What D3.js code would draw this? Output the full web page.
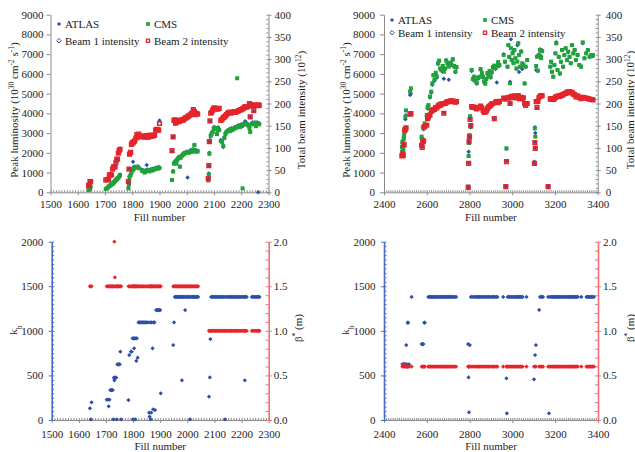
<!DOCTYPE html>
<html>
<head>
<meta charset="utf-8">
<script src="https://cdn.jsdelivr.net/npm/d3@7"></script>
<style>
  body { margin: 0; background: #fff; }
  svg { display: block; }
</style>
</head>
<body>
<svg id="chart" width="635" height="452"></svg>
<script>
// ---- tick labels ----
const lumTicks = [0, 1000, 2000, 3000, 4000, 5000, 6000, 7000, 8000, 9000];
const intTicks = [0, 50, 100, 150, 200, 250, 300, 350, 400];
const kbTicks = [0, 500, 1000, 1500, 2000];
const betaTicks = [0, 0.5, 1.0, 1.5, 2.0];
const fillTicks2011 = [1500, 1600, 1700, 1800, 1900, 2000, 2100, 2200, 2300];
const fillTicks2012 = [2400, 2600, 2800, 3000, 3200, 3400];

// ---- 2011: peak luminosity (1e30 cm-2 s-1) and beam intensity (1e12) per fill ----
const fills2011 = [
  1640, 1642, 1645, 1647,
  1703, 1709, 1713, 1716, 1720, 1724, 1728, 1731, 1734, 1737, 1740, 1743, 1746, 1749, 1752, 1755,
  1786, 1788, 1790, 1794, 1797, 1800, 1803, 1806, 1809, 1813, 1817, 1820, 1824,
  1835, 1839, 1843, 1846, 1850, 1853, 1856, 1860, 1863, 1866, 1870, 1874, 1878, 1882, 1886, 1890, 1894, 1897, 1900,
  1946, 1950, 1953, 1956, 1959, 1962, 1965, 1968, 1971, 1975, 1978, 1982, 1986, 1990, 1994, 1998, 2003, 2007, 2012, 2016, 2020, 2024, 2028, 2032, 2036, 2040,
  2079, 2081, 2083, 2085, 2088, 2091, 2095, 2099, 2103, 2107,
  2111, 2115, 2119, 2125, 2130, 2134, 2138, 2142, 2146, 2150,
  2155, 2159, 2163, 2167, 2171, 2175, 2180, 2185, 2190, 2195,
  2200, 2205, 2210, 2214, 2218, 2225, 2230, 2233, 2238, 2242,
  2246, 2250, 2254, 2258, 2262, 2266
];
const atlas2011 = [
  150, 220, 170, 300,
  180, 240, 300, 350, 380, 430, 450, 520, 560, 600, 650, 700, 720, 780, 820, 900,
  250, 450, 800, 900, 1050, 1150, 1550, 1300, 1300, 1300, 1300, 1320, 1250,
  1150, 1100, 1100, 1050, 1100, 1380, 1150, 1120, 1080, 1150, 1150, 1200, 1150, 1200, 1250, 1250, 1220, 1280, 1250,
  640, 1080, 1500, 1550, 1600, 1500, 1700, 1750, 1800, 1300, 1800, 1900, 1950, 2000, 2000, 2050, 750, 2050, 2100, 2150, 2100, 2200, 2400, 2150, 2100, 2100,
  650, 950, 2000, 2650, 2900, 3000, 3100, 3300, 3300, 3250,
  3000, 3300, 3200, 2650, 2600, 2300, 2800, 3000, 3100, 3150,
  3200, 3200, 3250, 3200, 3250, 3300, 3300, 3350, 3400, 3350,
  3450, 3350, 3500, 3600, 3550, 3450, 3300, 3100, 3500, 3550,
  3500, 3550, 3400, 3550, 0, 3500
];
const cms2011 = [
  120, 200, 150, 280,
  170, 220, 280, 320, 350, 400, 420, 480, 520, 570, 620, 660, 700, 740, 800, 870,
  200, 420, 770, 880, 1000, 1100, 1150, 1200, 1250, 1280, 1270, 1280, 1220,
  1100, 1080, 1050, 1000, 1080, 1100, 1120, 1100, 1060, 1120, 1100, 1150, 1120, 1180, 1200, 1220, 1200, 1250, 1230,
  620, 1050, 1450, 1500, 1550, 1450, 1650, 1700, 1750, 1300, 1750, 1850, 1900, 1950, 1980, 2000, 2050, 2000, 2050, 2100, 2050, 2150, 2400, 2100, 2050, 2080,
  600, 900, 1950, 2600, 2850, 2950, 3050, 3200, 3250, 3200,
  2950, 3250, 3150, 2600, 2550, 2350, 2750, 2950, 3050, 3100,
  3150, 3100, 3200, 3150, 3200, 3250, 3250, 5780, 3350, 3300,
  3400, 200, 3450, 3500, 3450, 3400, 3250, 3050, 3450, 3500,
  3450, 3500, 3350, 3500, 3450, 3450
];
const beam1_2011 = [
  14, 16, 24, 25,
  27, 28, 29, 38, 41, 39, 52, 57, 58, 57, 68, 74, 75, 88, 93, 99,
  24, 53, 85, 90, 108, 112, 110, 115, 116, 122, 129, 124, 130,
  125, 126, 127, 125, 126, 128, 125, 124, 127, 128, 126, 129, 127, 129, 140, 143, 141, 139, 162,
  93, 125, 160, 164, 155, 158, 160, 161, 159, 160, 162, 163, 162, 165, 166, 168, 170, 172, 174, 176, 178, 186, 182, 175, 178, 176,
  31, 59, 114, 161, 178, 180, 185, 189, 190, 188,
  189, 188, 190, 162, 166, 167, 170, 172, 174, 178,
  181, 180, 178, 180, 181, 182, 180, 183, 184, 185,
  186, 188, 190, 193, 192, 194, 200, 170, 197, 198,
  183, 196, 196, 195, 197, 196
];
const beam2_2011 = [
  15, 16, 24, 24,
  28, 28, 29, 39, 40, 39, 52, 57, 58, 57, 67, 74, 75, 88, 94, 97,
  24, 52, 86, 90, 108, 112, 111, 114, 116, 122, 130, 124, 131,
  126, 125, 127, 124, 126, 127, 125, 124, 128, 128, 126, 128, 127, 129, 140, 142, 141, 140, 155,
  94, 125, 162, 163, 156, 158, 160, 162, 159, 161, 162, 163, 162, 165, 167, 168, 170, 172, 174, 176, 179, 186, 181, 175, 178, 176,
  31, 60, 114, 161, 178, 180, 185, 189, 190, 188,
  188, 188, 189, 162, 165, 168, 170, 172, 175, 178,
  180, 180, 178, 180, 180, 182, 180, 182, 184, 185,
  186, 188, 190, 193, 192, 193, 200, 170, 196, 197,
  184, 196, 196, 195, 197, 196
];

// ---- 2012 ----
const fills2012 = [
  2484, 2486, 2488, 2490, 2492, 2494, 2497, 2500, 2503, 2522, 2526,
  2576, 2579, 2582, 2585, 2590, 2600, 2604, 2608, 2615, 2621,
  2626, 2631, 2636, 2642, 2647, 2653, 2658, 2663, 2669, 2675,
  2680, 2686, 2691, 2697, 2703, 2710, 2716, 2722, 2728, 2734, 2739,
  2794, 2796, 2798, 2800, 2803, 2806,
  2810, 2816, 2822, 2828, 2834, 2840, 2846, 2852, 2858, 2864,
  2869, 2874, 2879, 2884, 2889, 2894, 2899, 2904, 2910, 2916,
  2922, 2928, 2934, 2940,
  2960, 2966, 2970, 2973, 2978, 2982, 2986, 2990, 2994, 2998,
  3002, 3006, 3010, 3015, 3020, 3024, 3028, 3032,
  3037, 3042, 3047, 3052, 3058, 3063, 3070,
  3104, 3106, 3108, 3112, 3116, 3120, 3125, 3130, 3135, 3140, 3168,
  3178, 3182, 3186, 3192, 3197, 3202, 3206, 3212, 3218, 3223,
  3228, 3233, 3238, 3244, 3250, 3256, 3262, 3268, 3274, 3280,
  3286, 3292, 3298, 3306, 3314, 3322, 3330, 3338, 3346, 3354,
  3362, 3370, 3378
];
const atlas2012 = [
  2100, 2500, 2300, 2000, 2650, 2800, 3000, 3700, 3900, 4930, 5000,
  2750, 2600, 3300, 3200, 3450, 3900, 4250, 4400, 4800, 5050,
  5450, 5900, 5650, 6000, 5800, 6500, 6650, 6250, 6150, 6350,
  5750, 6250, 6700, 6500, 5700, 6550, 6450, 6700, 6350, 6100, 6300,
  250, 2060, 2600, 2850, 3800, 3300,
  6150, 5700, 5850, 5600, 5500, 5750, 5800, 6200, 6000, 5800,
  5600, 5550, 5700, 6000, 5900, 6100, 5800, 6050, 6300, 6400,
  6250, 5560, 6550, 6400,
  7000, 6600, 300, 2200, 6350, 7450, 6850, 5600, 7750, 6700,
  7100, 6550, 7200, 6800, 6250, 7450, 7550, 6100,
  6350, 7150, 6250, 6500, 5500, 6350, 6700,
  1550, 3300, 3000, 6200, 6900, 6150, 7000, 7250, 6900, 7200, 250,
  6350, 6600, 6100, 5850, 6450, 7050, 7600, 6200, 6850, 6000,
  6600, 7200, 6350, 6950, 7300, 6700, 7100, 6850, 6550, 7450,
  7050, 7200, 6700, 6950, 6450, 6350, 7550, 6800, 7050, 7200,
  6850, 6950, 6900
];
const cms2012 = [
  2300, 2560, 2400, 2150, 2750, 2900, 3100, 3830, 4150, 5100, 5270,
  2820, 2700, 3320, 3240, 3490, 3920, 4300, 4420, 4850, 5100,
  5520, 5940, 5690, 6060, 5860, 6540, 6670, 6280, 6200, 6400,
  6110, 6280, 6670, 6540, 6370, 6570, 6470, 6750, 6400, 6110, 6350,
  290, 1840, 2500, 2900, 3860, 3320,
  6200, 5750, 5860, 5650, 5550, 5800, 5850, 6250, 6050, 5850,
  5600, 5500, 5750, 6050, 5950, 6150, 5850, 6100, 6350, 6420,
  6300, 6400, 6600, 6450,
  6960, 6620, 290, 2230, 6370, 7460, 6870, 5520, 7300, 6700,
  7040, 6540, 7210, 6790, 6280, 6620, 7550, 6960,
  6370, 7130, 6540, 6450, 5520, 6370, 6700,
  1480, 3240, 2820, 6400, 6870, 6170, 6950, 7210, 6800, 7150, 290,
  6370, 6620, 6110, 5860, 6450, 7040, 7550, 6200, 6870, 6030,
  6620, 7210, 6370, 6960, 7300, 6700, 7130, 6870, 6540, 7460,
  7040, 7210, 6700, 6960, 6450, 6370, 7600, 6790, 7040, 7210,
  6870, 6960, 6950
];
const beam1_2012 = [
  84, 86, 88, 84, 108, 110, 140, 142, 144, 175, 178,
  107, 102, 115, 117, 148, 152, 164, 170, 175, 181,
  184, 187, 186, 192, 191, 195, 197, 198, 199, 200,
  179, 201, 203, 205, 205, 206, 206, 206, 205, 204, 205,
  12, 66, 112, 125, 165, 150,
  192, 192, 193, 190, 188, 192, 190, 195, 190, 185,
  180, 182, 184, 188, 193, 195, 197, 200, 201, 166,
  204, 205, 203, 206,
  212, 210, 14, 70, 214, 212, 215, 200, 215, 216,
  214, 212, 217, 215, 213, 216, 218, 211,
  213, 214, 212, 214, 200, 196, 200,
  66, 113, 100, 205, 190, 205, 212, 216, 217, 217, 13,
  211, 212, 210, 208, 212, 214, 216, 217, 218, 216,
  219, 220, 221, 222, 224, 226, 227, 228, 225, 226,
  222, 220, 216, 217, 214, 212, 215, 214, 213, 212,
  211, 210, 209
];
const beam2_2012 = [
  82, 84, 86, 83, 106, 108, 140, 142, 145, 176, 177,
  106, 101, 114, 116, 148, 151, 166, 170, 174, 182,
  185, 186, 187, 191, 190, 194, 197, 196, 199, 199,
  178, 200, 202, 204, 204, 206, 205, 206, 204, 203, 204,
  11, 65, 114, 125, 164, 150,
  193, 191, 192, 190, 188, 191, 191, 194, 190, 184,
  180, 181, 184, 188, 192, 194, 196, 199, 200, 166,
  203, 204, 202, 205,
  212, 210, 13, 69, 213, 212, 214, 200, 215, 216,
  214, 213, 217, 214, 213, 215, 218, 211,
  212, 214, 211, 213, 200, 196, 200,
  65, 112, 99, 204, 191, 205, 213, 216, 218, 217, 13,
  210, 211, 210, 209, 211, 214, 215, 216, 217, 216,
  218, 219, 220, 222, 223, 225, 226, 227, 224, 225,
  221, 220, 215, 217, 214, 211, 214, 213, 212, 211,
  210, 209, 208
];

// ---- bunches k_b and beta* (m) per fill ----
const fillsKb2011 = [
  1641, 1644, 1647,
  1703, 1707, 1710, 1713, 1716, 1719, 1722, 1725, 1727, 1729,
  1731, 1733, 1735, 1738, 1740, 1742, 1745, 1748, 1751, 1753, 1756,
  1783, 1786, 1792, 1795, 1798, 1800, 1802, 1804, 1806, 1808, 1810, 1812, 1814, 1817,
  1820, 1823, 1827, 1831, 1835, 1839, 1843, 1847, 1851, 1855, 1859, 1861, 1863, 1865, 1867, 1869,
  1872, 1874, 1876, 1879, 1881, 1885, 1888, 1891, 1894, 1897, 1900, 1902,
  1948, 1951, 1954, 1957, 1960, 1963, 1966, 1969, 1972, 1975, 1978, 1980,
  1983, 1986, 1989, 1992, 1995, 1998, 2001, 2004, 2007, 2010,
  2013, 2016, 2019, 2022, 2025, 2028, 2031, 2034, 2037, 2040,
  2080, 2083, 2085, 2088, 2092, 2095, 2099, 2103, 2106, 2110, 2114, 2117,
  2121, 2125, 2128, 2132, 2136, 2139, 2142, 2146, 2150, 2153, 2157, 2161,
  2164, 2168, 2172, 2175, 2179, 2183, 2186, 2190, 2194, 2198, 2202, 2206,
  2210, 2212, 2215, 2219, 2238, 2242, 2246, 2250, 2254, 2258, 2262, 2266
];
const kb2011 = [
  131, 8, 198,
  228, 228, 153, 228, 336, 336, 336, 336, 8, 475,
  445, 475, 475, 475, 8, 624, 624, 624, 624, 766, 8,
  224, 729, 766, 766, 916, 8, 916, 804, 916, 8, 916, 662, 916, 699,
  1095, 1095, 1095, 1095, 1095, 1095, 1095, 1095, 1095, 1095, 82, 37, 1095, 8, 82, 1095,
  804, 120, 1095, 1095, 112, 1233, 1233, 1233, 1233, 1233, 1233, 299,
  841, 1095, 1380, 1380, 1380, 1380, 1380, 1380, 1380, 1380, 1380, 445,
  1380, 1380, 1380, 1233, 1380, 1380, 1380, 1380, 1380, 8,
  1380, 1380, 1380, 1380, 1380, 1380, 1380, 1380, 1380, 1380,
  262, 478, 908, 1380, 1380, 1380, 1380, 1380, 1380, 1380, 1380, 1380,
  1380, 1380, 1380, 1380, 1380, 8, 1380, 1380, 1380, 1380, 1380, 1380,
  1380, 1380, 1380, 1380, 1380, 1380, 1380, 1380, 1380, 1380, 1380, 1380,
  1380, 445, 1380, 1380, 1380, 1380, 1380, 1380, 1380, 1380, 1380, 1380
];
const beta2011 = [
  1.5, 1.5, 1.5,
  1.5, 1.5, 1.5, 1.5, 1.5, 1.5, 1.5, 1.5, 1.5, 1.5,
  2.0, 1.6, 1.5, 1.5, 1.5, 1.5, 1.5, 1.5, 1.5, 1.5, 1.5,
  1.5, 1.5, 1.5, 1.5, 1.5, 1.5, 1.5, 1.5, 1.5, 1.5, 1.5, 1.5, 1.5, 1.5,
  1.5, 1.5, 1.5, 1.5, 1.5, 1.5, 1.5, 1.5, 1.5, 1.5, 1.5, 1.5, 1.5, 1.5, 1.5, 1.5,
  1.5, 1.5, 1.5, 1.5, 1.5, 1.5, 1.5, 1.5, 1.5, 1.5, 1.5, 1.5,
  1.5, 1.5, 1.5, 1.5, 1.5, 1.5, 1.5, 1.5, 1.5, 1.5, 1.5, 1.5,
  1.5, 1.5, 1.5, 1.5, 1.5, 1.5, 1.5, 1.5, 1.5, 1.5,
  1.5, 1.5, 1.5, 1.5, 1.5, 1.5, 1.5, 1.5, 1.5, 1.5,
  1.0, 1.0, 1.0, 1.0, 1.0, 1.0, 1.0, 1.0, 1.0, 1.0, 1.0, 1.0,
  1.0, 1.0, 1.0, 1.0, 1.0, 1.0, 1.0, 1.0, 1.0, 1.0, 1.0, 1.0,
  1.0, 1.0, 1.0, 1.0, 1.0, 1.0, 1.0, 1.0, 1.0, 1.0, 1.0, 1.0,
  1.0, 1.0, 1.0, 1.0, 1.0, 1.0, 1.0, 1.0, 1.0, 1.0, 1.0, 1.0
];

const fillsKb2012 = [
  2486, 2489, 2492, 2495, 2498, 2501, 2504, 2507, 2510, 2513, 2517, 2529,
  2576, 2580, 2584, 2588, 2591, 2607, 2612, 2617, 2622, 2627, 2632, 2637,
  2642, 2647, 2652, 2657, 2662, 2667, 2672, 2677, 2682, 2687, 2692, 2697,
  2702, 2707, 2712, 2717, 2722, 2727, 2732, 2737, 2793, 2795, 2797, 2801,
  2806, 2812, 2820, 2826, 2832, 2838, 2843, 2848, 2853, 2858, 2864, 2870,
  2876, 2882, 2888, 2894, 2900, 2906, 2912, 2918, 2924, 2930, 2957, 2972,
  2974, 2978, 2983, 2988, 2993, 2998, 3003, 3008, 3013, 3018, 3023, 3028,
  3033, 3038, 3043, 3048, 3066, 3101, 3106, 3110, 3125, 3129, 3134, 3139,
  3143, 3167, 3171, 3176, 3181, 3186, 3191, 3196, 3201, 3206, 3211, 3216,
  3221, 3226, 3231, 3236, 3241, 3246, 3251, 3256, 3261, 3266, 3271, 3276,
  3281, 3286, 3291, 3296, 3301, 3306, 3322, 3346, 3351, 3356, 3361, 3366,
  3371, 3376, 3381
];
const kb2012 = [
  624, 624, 624, 624, 624, 624, 841, 624, 1091, 1091, 624, 1380,
  852, 852, 852, 1091, 1091, 1380, 1380, 1380, 1380, 1380, 1380, 1380,
  1380, 1380, 1380, 1380, 1380, 1380, 1380, 1380, 1380, 1380, 1380, 1380,
  1380, 1380, 1380, 1380, 1380, 1380, 1380, 1380, 852, 478, 86, 841,
  1380, 1380, 1380, 1380, 1380, 1380, 1380, 1380, 1380, 1380, 1380, 1380,
  1380, 1380, 1380, 1380, 1380, 1380, 1380, 1380, 1380, 1380, 1380, 467,
  75, 1380, 1380, 1380, 1380, 1380, 1380, 1380, 1380, 1380, 1380, 1380,
  1380, 1380, 1380, 1380, 1380, 456, 729, 841, 1234, 1380, 1380, 1380,
  1380, 1380, 75, 1380, 1380, 1380, 1380, 1380, 1380, 1380, 1380, 1380,
  1380, 1380, 1380, 1380, 1380, 1380, 1380, 1380, 1380, 1380, 1380, 1380,
  1380, 1380, 1380, 1380, 1380, 1380, 1380, 1380, 1380, 1380, 1380, 1380,
  1380, 1380, 1380
];
const beta2012 = [
  0.6, 0.62, 0.6, 0.62, 0.6, 0.6, 0.6, 0.6, 0.6, 0.6, 0.6, 0.6,
  0.6, 0.6, 0.6, 0.6, 0.6, 0.6, 0.6, 0.6, 0.6, 0.6, 0.6, 0.6,
  0.6, 0.6, 0.6, 0.6, 0.6, 0.6, 0.6, 0.6, 0.6, 0.6, 0.6, 0.6,
  0.6, 0.6, 0.6, 0.6, 0.6, 0.6, 0.6, 0.6, 0.6, 0.6, 0.6, 0.6,
  0.6, 0.6, 0.6, 0.6, 0.6, 0.6, 0.6, 0.6, 0.6, 0.6, 0.6, 0.6,
  0.6, 0.6, 0.6, 0.6, 0.6, 0.6, 0.6, 0.6, 0.6, 0.6, 0.6, 0.6,
  0.6, 0.6, 0.6, 0.6, 0.6, 0.6, 0.6, 0.6, 0.6, 0.6, 0.6, 0.6,
  0.6, 0.6, 0.6, 0.6, 0.6, 0.6, 0.6, 0.6, 0.6, 0.6, 0.6, 0.6,
  0.6, 0.6, 0.6, 0.6, 0.6, 0.6, 0.6, 0.6, 0.6, 0.6, 0.6, 0.6,
  0.6, 0.6, 0.6, 0.6, 0.6, 0.6, 0.6, 0.6, 0.6, 0.6, 0.6, 0.6,
  0.6, 0.6, 0.6, 0.6, 0.6, 0.6, 0.6, 0.6, 0.6, 0.6, 0.6, 0.6,
  0.6, 0.6, 0.6
];

// ---- drawing ----
const svg = d3.select("#chart");
const FONT = '"Liberation Serif","Times New Roman",Times,serif';
const BLUE = "#2d4fa6", GREEN = "#1fa23a", RED = "#e5252b";
const GREY = "#8a8a8a", INK = "#1b1b1b";
const AX_BLUE = "#4b6cc2", AX_RED = "#f07077";

const tl = {x0: 50.5, x1: 268.5, y0: 192.3, y1: 14.7};
const tr = {x0: 384, x1: 597.7, y0: 192.3, y1: 14.7};
const bl = {x0: 51.7, x1: 268.7, y0: 420, y1: 241.7};
const br = {x0: 384, x1: 598, y0: 420, y1: 241.7};

function paint(g, color) {
  g.attr("font-family", FONT).attr("font-size", 11);
  g.select(".domain").attr("stroke", color);
  g.selectAll(".tick line").attr("stroke", color);
  g.selectAll(".tick text").attr("fill", INK);
  return g;
}

function fillAxis(x, p, ticks, pad) {
  paint(svg.append("g").attr("transform", `translate(0,${p.y0})`)
    .call(d3.axisBottom(x).tickValues(ticks).tickSize(3).tickSizeOuter(0)
      .tickPadding(pad).tickFormat(d3.format("d"))), GREY);
  const minor = svg.append("g").attr("transform", `translate(0,${p.y0})`)
    .call(d3.axisTop(x).tickValues(d3.range(ticks[0], ticks[ticks.length - 1] + 1, 10))
      .tickSize(2).tickSizeOuter(0).tickFormat(""));
  paint(minor, GREY).select(".domain").remove();
}

function label(x, y, parts, rotate) {
  const t = svg.append("text")
    .attr("font-family", FONT).attr("font-size", 11).attr("fill", INK)
    .attr("text-anchor", "middle")
    .attr("transform", `translate(${x},${y})` + (rotate ? " rotate(-90)" : ""));
  parts.forEach(function (p) {
    const s = Array.isArray(p) ? p[0] : p;
    const ts = t.append("tspan").text(s);
    if (Array.isArray(p)) ts.attr("font-size", 7.5).attr("baseline-shift", p[1]);
  });
}

// equal-sided diamond (area = size)
const rhombus = {
  draw(ctx, size) {
    const r = Math.sqrt(size / 2);
    ctx.moveTo(0, -r); ctx.lineTo(r, 0); ctx.lineTo(0, r); ctx.lineTo(-r, 0); ctx.closePath();
  }
};
const diamond = s => d3.symbol().type(rhombus).size(s)();
const square = s => d3.symbol().type(d3.symbolSquare).size(s)();

function dots(xs, ys, x, y, path, style) {
  const g = svg.append("g");
  g.selectAll("path")
    .data(xs.map((f, i) => [f, ys[i]]))
    .join("path")
    .attr("transform", d => `translate(${x(d[0])},${y(d[1])})`)
    .attr("d", path)
    .attr("fill", style.fill)
    .attr("stroke", style.stroke || "none")
    .attr("stroke-width", style.sw || 0);
}

function topPanel(p, xDomain, xTicks, fills, atlas, cms, b1, b2, leg, padL, padR) {
  const x = d3.scaleLinear().domain(xDomain).range([p.x0, p.x1]);
  const yL = d3.scaleLinear().domain([0, 9000]).range([p.y0, p.y1]);
  const yR = d3.scaleLinear().domain([0, 400]).range([p.y0, p.y1]);

  fillAxis(x, p, xTicks, 5);
  paint(svg.append("g").attr("transform", `translate(${p.x0},0)`)
    .call(d3.axisLeft(yL).tickValues(lumTicks).tickSize(4).tickSizeOuter(0)
      .tickPadding(padL).tickFormat(d3.format("d"))), GREY);
  paint(svg.append("g").attr("transform", `translate(${p.x1},0)`)
    .call(d3.axisRight(yR).tickValues(intTicks).tickSize(3).tickSizeOuter(0)
      .tickPadding(padR).tickFormat(d3.format("d"))), GREY);
  const inner = svg.append("g").attr("transform", `translate(${p.x1},0)`)
    .call(d3.axisLeft(yR).tickValues(d3.range(0, 401, 10)).tickSize(2).tickSizeOuter(0).tickFormat(""));
  paint(inner, GREY).select(".domain").remove();

  dots(fills, atlas, x, yL, diamond(10), {fill: BLUE});
  dots(fills, cms, x, yL, square(16), {fill: GREEN});
  dots(fills, b1, x, yR, diamond(8), {fill: BLUE});
  dots(fills, b2, x, yR, square(13), {fill: "none", stroke: RED, sw: 1.6});

  // legend
  const rows = [
    [leg.xa, leg.r1, diamond(9), {fill: BLUE}, "ATLAS"],
    [leg.xb, leg.r1, square(14), {fill: GREEN}, "CMS"],
    [leg.xa, leg.r2, diamond(10), {fill: "#fff", stroke: BLUE, sw: 1}, "Beam 1 intensity"],
    [leg.xb, leg.r2, square(10), {fill: "#fff", stroke: RED, sw: 1.3}, "Beam 2 intensity"]
  ];
  rows.forEach(function (r) {
    svg.append("path").attr("transform", `translate(${r[0]},${r[1]})`).attr("d", r[2])
      .attr("fill", r[3].fill).attr("stroke", r[3].stroke || "none").attr("stroke-width", r[3].sw || 0);
    svg.append("text").attr("x", r[0] + 6).attr("y", r[1]).attr("dy", "0.35em")
      .attr("font-family", FONT).attr("font-size", 11).attr("fill", INK).text(r[4]);
  });
}

function bottomPanel(p, xDomain, xTicks, fills, kb, beta) {
  const x = d3.scaleLinear().domain(xDomain).range([p.x0, p.x1]);
  const yK = d3.scaleLinear().domain([0, 2000]).range([p.y0, p.y1]);
  const yB = d3.scaleLinear().domain([0, 2]).range([p.y0, p.y1]);

  fillAxis(x, p, xTicks, 7);

  const left = paint(svg.append("g").attr("transform", `translate(${p.x0},0)`)
    .call(d3.axisLeft(yK).tickValues(kbTicks).tickSize(3).tickSizeOuter(0)
      .tickPadding(5.5).tickFormat(d3.format("d"))), AX_BLUE);
  left.select(".domain").attr("stroke-width", 1.6);
  const lMinor = svg.append("g").attr("transform", `translate(${p.x0},0)`)
    .call(d3.axisRight(yK).tickValues(d3.range(0, 2001, 50)).tickSize(2.5).tickSizeOuter(0).tickFormat(""));
  paint(lMinor, AX_BLUE).select(".domain").remove();

  const right = paint(svg.append("g").attr("transform", `translate(${p.x1},0)`)
    .call(d3.axisRight(yB).tickValues(betaTicks).tickSize(3).tickSizeOuter(0).tickPadding(2)
      .tickFormat(d3.format(".1f"))), AX_RED);
  right.select(".domain").attr("stroke-width", 1.6);
  const rMinor = svg.append("g").attr("transform", `translate(${p.x1},0)`)
    .call(d3.axisLeft(yB).tickValues(d3.range(0, 21).map(i => i / 10)).tickSize(3).tickSizeOuter(0).tickFormat(""));
  paint(rMinor, AX_RED).select(".domain").remove();

  dots(fills, kb, x, yK, diamond(9), {fill: BLUE});
  dots(fills, beta, x, yB, diamond(9), {fill: RED});
}

topPanel(tl, [1500, 2300], fillTicks2011, fills2011, atlas2011, cms2011, beam1_2011, beam2_2011,
  {xa: 59, xb: 148, r1: 24, r2: 40.7}, 3, 3);
topPanel(tr, [2400, 3400], fillTicks2012, fills2012, atlas2012, cms2012, beam1_2012, beam2_2012,
  {xa: 392, xb: 485, r1: 20, r2: 32.7}, 5, 5);
bottomPanel(bl, [1500, 2300], fillTicks2011, fillsKb2011, kb2011, beta2011);
bottomPanel(br, [2400, 3400], fillTicks2012, fillsKb2012, kb2012, beta2012);

// axis titles
const lumTitle = ["Peak luminosity (10", ["30", "super"], " cm", ["-2", "super"], " s", ["-1", "super"], ")"];
const intTitle = ["Total beam intensity (10", ["12", "super"], ")"];
label(18, 110, lumTitle, true);
label(305, 110, intTitle, true);
label(350, 110, lumTitle, true);
label(634, 110, intTitle, true);
label((tl.x0 + tl.x1) / 2, 221, ["Fill number"], false);
label((tr.x0 + tr.x1) / 2, 221, ["Fill number"], false);
label((bl.x0 + bl.x1) / 2, 450, ["Fill number"], false);
label((br.x0 + br.x1) / 2, 450, ["Fill number"], false);
label(17, 330, ["k", ["b", "sub"]], true);
label(349, 330, ["k", ["b", "sub"]], true);
label(302, 328, ["β", ["*", "super"], " (m)"], true);
label(634, 328, ["β", ["*", "super"], " (m)"], true);
</script>
</body>
</html>
